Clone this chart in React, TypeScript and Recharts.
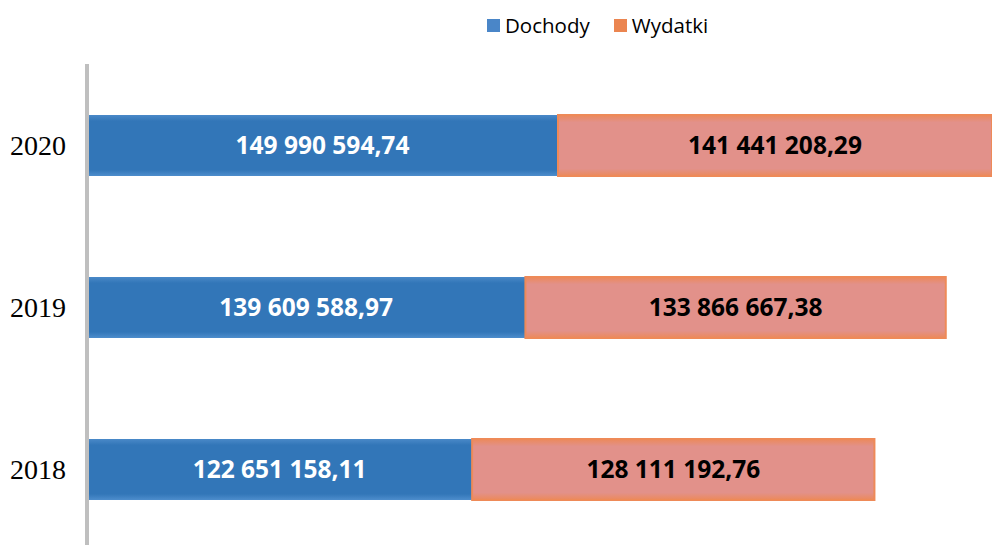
import { BarChart, Bar, XAxis, YAxis, Legend, LabelList } from 'recharts';

const years = ['2020', '2019', '2018'];
const dochody = [149990594.74, 139609588.97, 122651158.11];
const wydatki = [141441208.29, 133866667.38, 128111192.76];

const data = years.map((year, i) => ({
  year,
  dochody: dochody[i],
  wydatki: wydatki[i],
}));

// 149 990 594,74 style
const formatPl = (v: number) => {
  const [int, dec] = v.toFixed(2).split('.');
  return int.replace(/\B(?=(\d{3})+(?!\d))/g, ' ') + ',' + dec;
};

const legendItems = [
  { label: 'Dochody', color: '#4a86c8' },
  { label: 'Wydatki', color: '#eb8550' },
];

const CustomLegend = () => (
  <div style={{ display: 'flex', justifyContent: 'flex-start', gap: 24, paddingLeft: 487 }}>
    {legendItems.map((item) => (
      <div key={item.label} style={{ display: 'flex', alignItems: 'center', gap: 5 }}>
        <div style={{ width: 13, height: 13, backgroundColor: item.color }} />
        <span style={{ fontFamily: 'Open Sans', fontSize: 20.5, color: '#000' }}>{item.label}</span>
      </div>
    ))}
  </div>
);

export default function App() {
  return (
    <div>
      <style>{'body{margin:0}'}</style>
      <BarChart
        width={992}
        height={550}
        data={data}
        layout="vertical"
        margin={{ top: 64, right: 0, bottom: 0, left: 0 }}
        barSize={61}
      >
        <defs>
          <linearGradient id="blueFill" x1="0" y1="0" x2="0" y2="1">
            <stop offset="0%" stopColor="#4a89c8" />
            <stop offset="10%" stopColor="#3276b8" />
            <stop offset="90%" stopColor="#3276b8" />
            <stop offset="100%" stopColor="#4d8dcc" />
          </linearGradient>
          <linearGradient id="pinkFill" x1="0" y1="0" x2="0" y2="1">
            <stop offset="0%" stopColor="#ec895a" />
            <stop offset="12%" stopColor="#e2918a" />
            <stop offset="88%" stopColor="#e2918a" />
            <stop offset="100%" stopColor="#ec895a" />
          </linearGradient>
        </defs>
        <XAxis type="number" domain={[0, 288200000]} allowDataOverflow hide />
        <YAxis
          type="category"
          dataKey="year"
          width={87}
          tickLine={false}
          axisLine={{ stroke: '#bfbfbf', strokeWidth: 4 }}
          tickMargin={15}
          tick={{ fill: '#000', fontSize: 28, fontFamily: 'Liberation Serif' }}
        />
        <Legend
          verticalAlign="middle"
          wrapperStyle={{ top: 11, left: 0, width: 992 }}
          content={<CustomLegend />}
        />
        <Bar dataKey="dochody" stackId="a" fill="url(#blueFill)" isAnimationActive={false}>
          <LabelList
            dataKey="dochody"
            position="center"
            formatter={(v: number) => formatPl(v)}
            fill="#fff"
            fontSize={24.5}
            fontWeight="bold"
            fontFamily="Open Sans"
          />
        </Bar>
        <Bar
          dataKey="wydatki"
          stackId="a"
          fill="url(#pinkFill)"
          stroke="#ee8a58"
          strokeWidth={2}
          isAnimationActive={false}
        >
          <LabelList
            dataKey="wydatki"
            position="center"
            formatter={(v: number) => formatPl(v)}
            fill="#000"
            stroke="none"
            fontSize={24.5}
            fontWeight="bold"
            fontFamily="Open Sans"
          />
        </Bar>
      </BarChart>
    </div>
  );
}
